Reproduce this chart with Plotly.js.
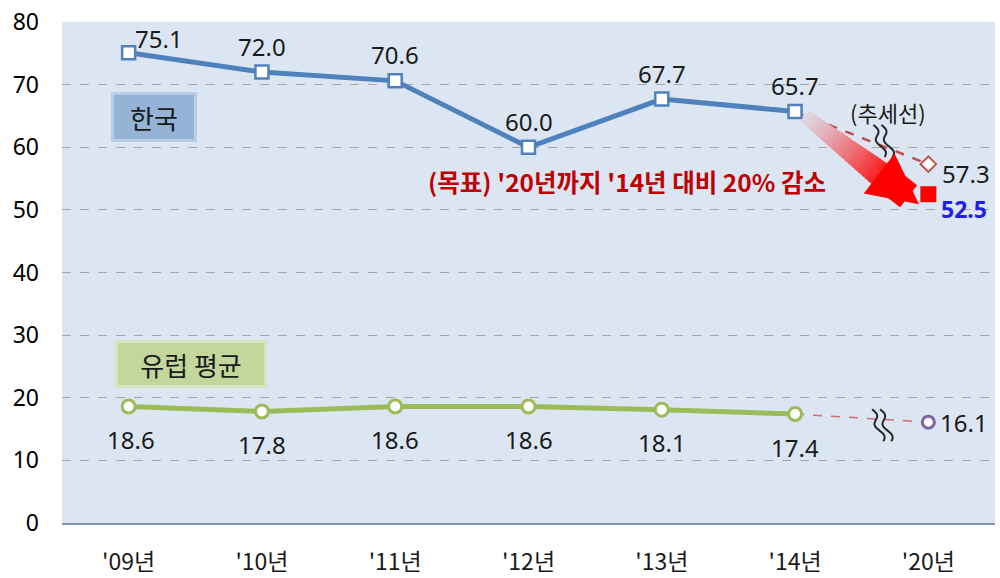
<!DOCTYPE html>
<html><head><meta charset="utf-8">
<script src="https://cdn.plot.ly/plotly-3.0.1.min.js"></script>
<style>html,body{margin:0;padding:0;background:#fff}#chart{width:1000px;height:578px}</style>
</head><body><div id="chart"></div>
<script>
const years = ["'09년", "'10년", "'11년", "'12년", "'13년", "'14년", "'20년"];
const actualYears = ["'09년", "'10년", "'11년", "'12년", "'13년", "'14년"];
const koreaValues = [75.1, 72.0, 70.6, 60.0, 67.7, 65.7];
const europeValues = [18.6, 17.8, 18.6, 18.6, 18.1, 17.4];
const trendYears = ["'14년", "'20년"];
const koreaTrend = [65.7, 57.3];
const europeTrend = [17.4, 16.1];
const koreaTarget = 52.5;
const yTicks = [0, 10, 20, 30, 40, 50, 60, 70, 80];

const numFamily = "Noto Sans, Liberation Sans, sans-serif";
const numFont = {family: numFamily, size: 24, color: "#1a1a1a"};
const korFont = "Noto Sans CJK KR, sans-serif";

const traces = [
  {x: trendYears, y: koreaTrend, mode: "lines", line: {color: "#c0504d", width: 2.5, dash: "dash"}, hoverinfo: "skip"},
  {x: trendYears, y: europeTrend, mode: "lines", line: {color: "#d46a74", width: 1.5, dash: "dash"}, hoverinfo: "skip"},
  {x: actualYears, y: koreaValues, mode: "lines+markers",
   line: {color: "#4f81bd", width: 5},
   marker: {symbol: "square", size: 13, color: "#ffffff", line: {color: "#4f81bd", width: 2.5}}},
  {x: actualYears, y: europeValues, mode: "lines+markers",
   line: {color: "#9bbb59", width: 5},
   marker: {symbol: "circle", size: 13, color: "#ffffff", line: {color: "#9bbb59", width: 3}}},
  {x: [trendYears[1]], y: [koreaTrend[1]], mode: "markers",
   marker: {symbol: "diamond", size: 12, color: "#ffffff", line: {color: "#c0504d", width: 2}}},
  {x: [trendYears[1]], y: [europeTrend[1]], mode: "markers",
   marker: {symbol: "circle", size: 12, color: "#ffffff", line: {color: "#8064a2", width: 3}}},
  {x: [trendYears[1]], y: [koreaTarget], mode: "markers",
   marker: {symbol: "square", size: 16, color: "#ff0000", line: {width: 0}}}
];

const annotations = [];
// gradient arrow (decoration): opaque colour steps blended from background to red
const bg = [220, 230, 242], red = [255, 0, 0];
function mix(a) {
  return "rgb(" + bg.map((c, i) => Math.round(c + (red[i] - c) * a)).join(",") + ")";
}
const tail = [5.06, 65.2], tip = [5.93, 50.9];
const nSeg = 24, shaftEnd = 0.74;
for (let k = 0; k < nSeg; k++) {
  const t0 = shaftEnd * k / nSeg, t1 = shaftEnd * (k + 1.6) / nSeg;
  const a = 0.06 + 0.94 * Math.pow((k + 0.5) / nSeg, 1.2);
  annotations.push({
    ax: tail[0] + (tip[0] - tail[0]) * t0, ay: tail[1] + (tip[1] - tail[1]) * t0,
    x: tail[0] + (tip[0] - tail[0]) * Math.min(t1, shaftEnd + 0.03), y: tail[1] + (tip[1] - tail[1]) * Math.min(t1, shaftEnd + 0.03),
    axref: "x", ayref: "y", xref: "x", yref: "y", text: "", showarrow: true,
    arrowhead: 0, arrowwidth: 14 + 14 * (k / nSeg), arrowcolor: mix(a)
  });
}
annotations.push({
  ax: tail[0] + (tip[0] - tail[0]) * (shaftEnd - 0.02), ay: tail[1] + (tip[1] - tail[1]) * (shaftEnd - 0.02),
  x: tip[0], y: tip[1], axref: "x", ayref: "y", xref: "x", yref: "y", text: "", showarrow: true,
  arrowhead: 2, arrowwidth: 28, arrowsize: 0.36, arrowcolor: "#ff0000"
});

koreaValues.forEach((v, i) => {
  annotations.push({x: actualYears[i], y: v, text: v.toFixed(1), showarrow: false,
    xshift: i === 0 ? 30 : 0, yshift: i === 0 ? 14 : 26, font: numFont});
});
europeValues.forEach((v, i) => {
  annotations.push({x: actualYears[i], y: v, text: v.toFixed(1), showarrow: false,
    xshift: i === 0 ? 2 : 0, yshift: -33, font: numFont});
});
annotations.push({x: trendYears[1], y: koreaTrend[1], text: koreaTrend[1].toFixed(1), showarrow: false, xanchor: "left", xshift: 12, yshift: -9, font: numFont});
annotations.push({x: trendYears[1], y: koreaTarget, text: "<b>" + koreaTarget.toFixed(1) + "</b>", showarrow: false, xanchor: "left", xshift: 11, yshift: -15, font: {family: numFamily, size: 23, color: "#1f1fe6"}});
annotations.push({x: trendYears[1], y: europeTrend[1], text: europeTrend[1].toFixed(1), showarrow: false, xanchor: "left", xshift: 10, font: numFont});
annotations.push({x: 5.70, y: 65.6, text: "(추세선)", showarrow: false, font: {family: korFont, size: 22, color: "#1a1a1a"}});
annotations.push({x: 3.74, y: 54.5, text: "<b>(목표) '20년까지 '14년 대비 20% 감소</b>", showarrow: false, font: {family: korFont, size: 24.5, color: "#c00000"}});
annotations.push({x: 0.19, y: 64.9, text: "한국", showarrow: false, width: 80, height: 44, bgcolor: "#95b3d7", bordercolor: "#b9cde5", borderwidth: 3, borderpad: 0, font: {family: korFont, size: 26, color: "#1a1a1a"}});
annotations.push({x: 0.47, y: 25.4, text: "유럽 평균", showarrow: false, width: 146, height: 42, bgcolor: "#c3d69b", bordercolor: "#d7e4bd", borderwidth: 3, borderpad: 0, font: {family: korFont, size: 26, color: "#1a1a1a"}});

// break marks (wavy double lines), drawn in pixel units around an anchor
function wavy(dx) {
  const pts = [];
  for (let j = 0; j <= 24; j++) {
    const yy = 16 - j * (32 / 24);
    const xx = dx - 0.35 * yy + 3 * Math.sin(j / 24 * Math.PI * 3);
    pts.push((j === 0 ? "M" : "L") + xx.toFixed(2) + "," + yy.toFixed(2));
  }
  return pts.join(" ");
}
const breakPath = wavy(-4) + " " + wavy(4);
const shapes = [
  {type: "path", xref: "x", yref: "y", xsizemode: "pixel", ysizemode: "pixel", xanchor: 5.66, yanchor: 61.0,
   path: breakPath, line: {color: "#262626", width: 2}},
  {type: "path", xref: "x", yref: "y", xsizemode: "pixel", ysizemode: "pixel", xanchor: 5.65, yanchor: 15.6,
   path: breakPath, line: {color: "#262626", width: 2}}
];

const layout = {
  width: 1000, height: 578,
  margin: {l: 62, r: 5, t: 22, b: 55},
  paper_bgcolor: "#ffffff", plot_bgcolor: "#dce6f2",
  showlegend: false,
  xaxis: {type: "category", categoryarray: years, categoryorder: "array", range: [-0.5, 6.5],
    showgrid: false, zeroline: false, showline: true, linecolor: "#8497b0", linewidth: 1.5,
    ticks: "", ticklabelstandoff: 18, tickfont: {family: korFont, size: 23, color: "#1a1a1a"}},
  yaxis: {range: [0, 80], tickvals: yTicks, showgrid: true, gridcolor: "#a6a6a6", griddash: "dash", gridwidth: 1,
    zeroline: false, showline: false, ticks: "", ticklabelstandoff: 22,
    tickfont: {family: numFamily, size: 23, color: "#000"}},
  annotations: annotations,
  shapes: shapes
};
Plotly.newPlot("chart", traces, layout, {displayModeBar: false, staticPlot: true});
</script></body></html>
